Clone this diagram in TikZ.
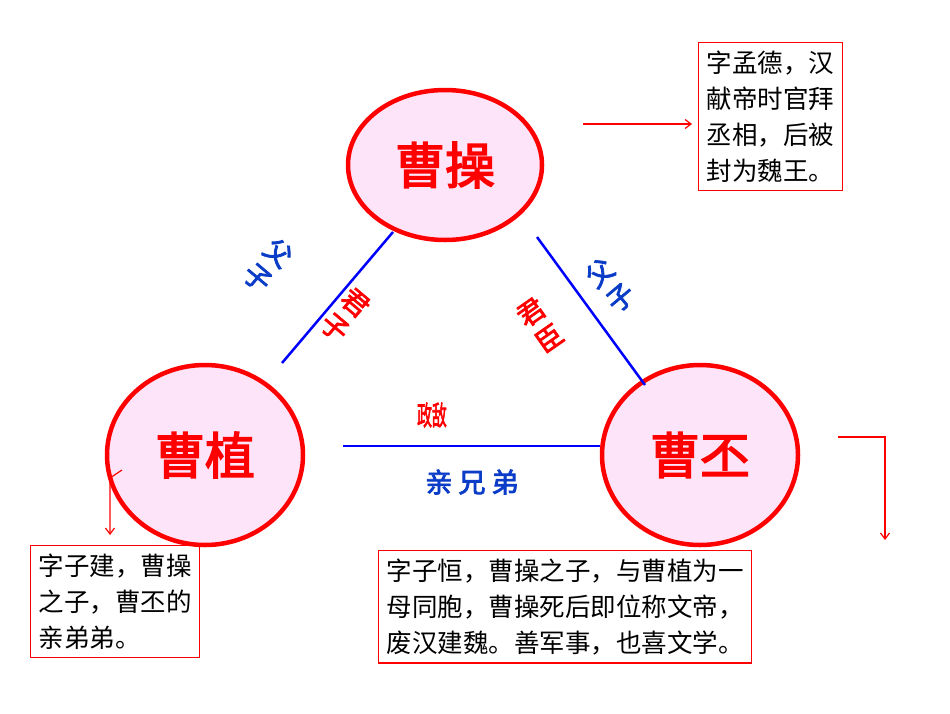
\documentclass[tikz,border=0pt]{standalone}
\usepackage{fontspec}
\newfontfamily\cjk{Noto Sans CJK SC}
\newfontfamily\cjkb[FakeBold=3]{Noto Sans CJK SC}
\usetikzlibrary{arrows.meta,shapes.geometric}
\definecolor{fillp}{RGB}{253,228,248}
\definecolor{lblue}{RGB}{10,60,200}
\tikzset{
 person/.style={ellipse,draw=red,line width=4.5pt,fill=fillp,inner sep=0pt},
 pname/.style={text=red,font=\cjkb\fontsize{50}{50}\selectfont},
 info/.style={draw=red,line width=1.2pt,anchor=north west,align=left,text=black,font=\cjk\fontsize{25.5}{36}\selectfont,inner sep=8pt},
 link/.style={draw=blue,line width=2.5pt},
 bl/.style={text=lblue,font=\cjkb\fontsize{27}{32}\selectfont,align=center},
 rl/.style={text=red,font=\cjkb\fontsize{27}{32}\selectfont,align=center},
 arr/.style={draw=red,line width=1.2pt,-{Straight Barb[length=6pt,width=9pt]}}
}
\begin{document}
\begin{tikzpicture}[x=1pt,y=-1pt]
\useasboundingbox (0,0) rectangle (950,713);
\node[person,minimum width=194pt,minimum height=150pt] (cc) at (445,165) {};
\node[pname] at (cc) {曹操};
\node[person,minimum width=196pt,minimum height=180pt] (cz) at (205,455) {};
\node[pname] at (cz) {曹植};
\node[person,minimum width=196pt,minimum height=180pt] (cp) at (700,455) {};
\node[pname] at (cp) {曹丕};
\coordinate (a1) at (393,232); \coordinate (a2) at (282,363);
\coordinate (b1) at (537,237); \coordinate (b2) at (645,385);
\coordinate (c1) at (343,446); \coordinate (c2) at (600,446);
\draw[link] (a1) -- (a2);
\draw[link] (b1) -- (b2);
\draw[link] (c1) -- (c2);
\node[bl,rotate=-40] (l1) at (268,265) {父\\子};
\node[rl,rotate=-40] (l2) at (345,315) {君\\子};
\node[bl,rotate=40] (l3) at (610,285) {父\\子};
\node[rl,rotate=35] (l4) at (540,325) {君\\臣};
\node[rl,xscale=0.55] (l5) at (432,415) {政敌};
\node[bl] (l6) at (472,482) {亲 兄 弟};
\node[info] (t1) at (698,42) {字孟德，汉\\献帝时官拜\\丞相，后被\\封为魏王。};
\node[info] (t2) at (30,545) {字子建，曹操\\之子，曹丕的\\亲弟弟。};
\node[info] (t3) at (378,550) {字子恒，曹操之子，与曹植为一\\母同胞，曹操死后即位称文帝，\\废汉建魏。善军事，也喜文学。};
\coordinate (p1) at (583,124); \coordinate (p2) at (692,124);
\draw[arr] (p1) -- (p2);
\coordinate (q1) at (122,470);
\draw[arr] (q1) -- (110,478) -- (110,535);
\coordinate (r1) at (838,437);
\draw[arr] (r1) -- (885,437) -- (885,540);
\end{tikzpicture}
\end{document}
